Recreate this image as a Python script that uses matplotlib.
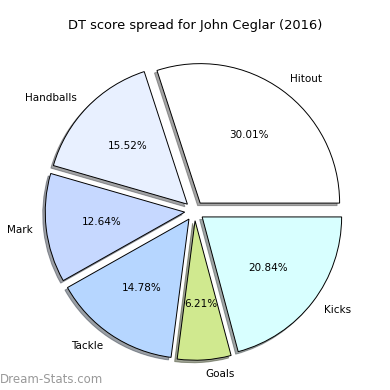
import matplotlib
matplotlib.use('Agg')
import matplotlib.pyplot as plt

# DT score spread
labels = ['Hitout', 'Handballs', 'Mark', 'Tackle', 'Goals', 'Kicks']
values = [30.01, 15.52, 12.64, 14.78, 6.21, 20.84]
colors = ['#ffffff', '#e8f0ff', '#c6d8ff', '#b6d6ff', '#d0e98f', '#d8ffff']
explode = [0.07, 0.07, 0.07, 0.07, 0.07, 0.07]

fig = plt.figure(figsize=(3.9, 3.9), dpi=100)
ax = fig.add_axes([0.0515, 0.012, 0.894, 0.894])

ax.pie(values, labels=labels, colors=colors, explode=explode,
       autopct='%1.2f%%', startangle=0,
       shadow={'ox': -0.013, 'oy': -0.013, 'shade': 0.7},
       wedgeprops={'edgecolor': 'black', 'linewidth': 0.7},
       textprops={'fontsize': 7.5})
ax.set_xlim(-1.25, 1.25)
ax.set_ylim(-1.25, 1.25)
ax.set_aspect('equal')

fig.text(0.5, 0.935, 'DT score spread for John Ceglar (2016)',
         ha='center', va='center', fontsize=9.4)
fig.text(0.0, 0.028, 'Dream-Stats.com', ha='left', va='center',
         fontsize=8.5, color='#999999')

fig.savefig('out.png', dpi=100)
